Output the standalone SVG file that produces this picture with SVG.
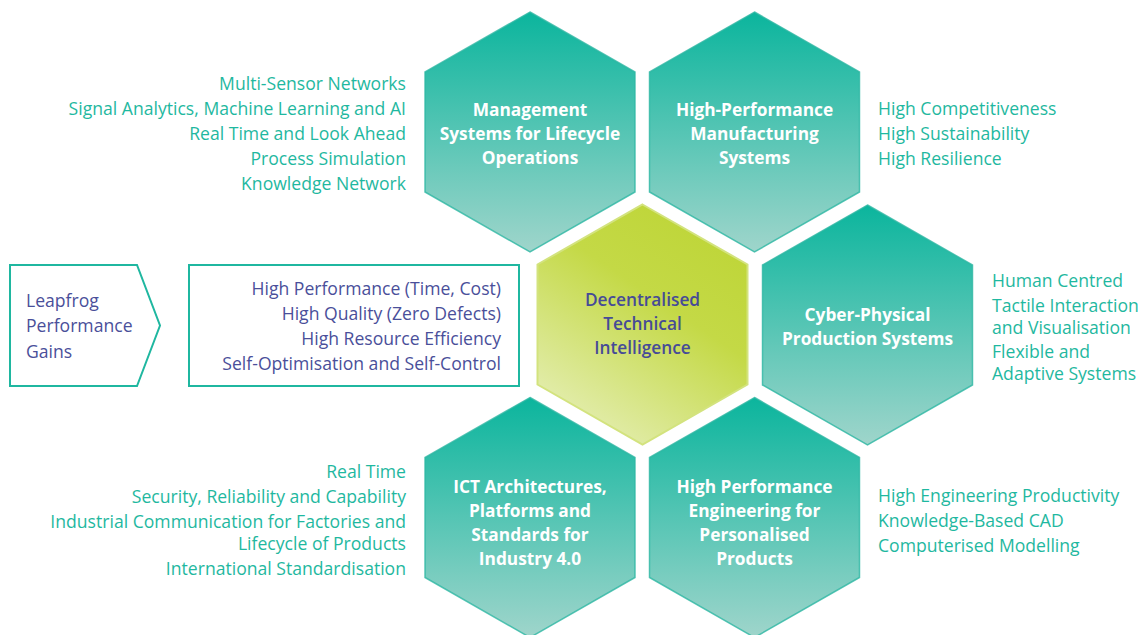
<svg xmlns="http://www.w3.org/2000/svg" width="1147" height="635" viewBox="0 0 1147 635">
<defs>
<linearGradient id="teal" x1="0" y1="0" x2="0" y2="1">
<stop offset="0" stop-color="#0bb59d"/>
<stop offset="1" stop-color="#9fd5cb"/>
</linearGradient>
<linearGradient id="lime" x1="0.75" y1="0.1" x2="0.25" y2="0.95">
<stop offset="0" stop-color="#bfd63a"/>
<stop offset="0.35" stop-color="#c4d946"/>
<stop offset="1" stop-color="#e3edae"/>
</linearGradient>
<polygon id="hex" points="0,-120 105,-60 105,60 0,120 -105,60 -105,-60"/>
</defs>
<style>
.hx{fill:url(#teal);stroke:#2db7a3;stroke-width:1.5;stroke-opacity:0.8}
.hc{fill:url(#lime);stroke:#d3e37e;stroke-width:2}
.ht{font-family:"Open Sans","Noto Sans",sans-serif;font-weight:700;font-size:17.3px;fill:#ffffff;text-anchor:middle}
.hd{font-family:"Open Sans","Noto Sans",sans-serif;font-weight:600;font-size:17.3px;fill:#464b97;text-anchor:middle}
.st{font-family:"Open Sans","Noto Sans",sans-serif;font-size:17.6px;fill:#1fb8a0}
.r{text-anchor:end}
.bt{font-family:"Open Sans","Noto Sans",sans-serif;font-size:17.6px;fill:#4a4f9a}
.box{fill:#ffffff;stroke:#1fb7a0;stroke-width:2}
</style>
<g id="connectors"/>
<g id="hex-management">
<use href="#hex" class="hx" x="530" y="132"/>
<text class="ht" x="530" y="116">Management</text>
<text class="ht" x="530" y="140">Systems for Lifecycle</text>
<text class="ht" x="530" y="164">Operations</text>
</g>
<g id="hex-manufacturing">
<use href="#hex" class="hx" x="754.5" y="132"/>
<text class="ht" x="754.5" y="116">High-Performance</text>
<text class="ht" x="754.5" y="140">Manufacturing</text>
<text class="ht" x="754.5" y="164">Systems</text>
</g>
<g id="hex-decentralised">
<use href="#hex" class="hc" x="642.5" y="324.5"/>
<text class="hd" x="642.5" y="306">Decentralised</text>
<text class="hd" x="642.5" y="330">Technical</text>
<text class="hd" x="642.5" y="354">Intelligence</text>
</g>
<g id="hex-cyber">
<use href="#hex" class="hx" x="867.5" y="325"/>
<text class="ht" x="867.5" y="321">Cyber-Physical</text>
<text class="ht" x="867.5" y="345">Production Systems</text>
</g>
<g id="hex-ict">
<use href="#hex" class="hx" x="530" y="517.5"/>
<text class="ht" x="530" y="493">ICT Architectures,</text>
<text class="ht" x="530" y="517">Platforms and</text>
<text class="ht" x="530" y="541">Standards for</text>
<text class="ht" x="530" y="565">Industry 4.0</text>
</g>
<g id="hex-engineering">
<use href="#hex" class="hx" x="754.5" y="517.5"/>
<text class="ht" x="754.5" y="493">High Performance</text>
<text class="ht" x="754.5" y="517">Engineering for</text>
<text class="ht" x="754.5" y="541">Personalised</text>
<text class="ht" x="754.5" y="565">Products</text>
</g>
<g id="list-management">
<text class="st r" x="406" y="90">Multi-Sensor Networks</text>
<text class="st r" x="406" y="115">Signal Analytics, Machine Learning and AI</text>
<text class="st r" x="406" y="140">Real Time and Look Ahead</text>
<text class="st r" x="406" y="165">Process Simulation</text>
<text class="st r" x="406" y="190">Knowledge Network</text>
</g>
<g id="list-manufacturing">
<text class="st" x="878" y="115">High Competitiveness</text>
<text class="st" x="878" y="140">High Sustainability</text>
<text class="st" x="878" y="165">High Resilience</text>
</g>
<g id="list-cyber">
<text class="st" x="992" y="287">Human Centred</text>
<text class="st" x="992" y="312">Tactile Interaction</text>
<text class="st" x="992" y="334">and Visualisation</text>
<text class="st" x="992" y="358">Flexible and</text>
<text class="st" x="992" y="380">Adaptive Systems</text>
</g>
<g id="list-ict">
<text class="st r" x="406" y="478">Real Time</text>
<text class="st r" x="406" y="503">Security, Reliability and Capability</text>
<text class="st r" x="406" y="528">Industrial Communication for Factories and</text>
<text class="st r" x="406" y="550">Lifecycle of Products</text>
<text class="st r" x="406" y="575">International Standardisation</text>
</g>
<g id="list-engineering">
<text class="st" x="878" y="502">High Engineering Productivity</text>
<text class="st" x="878" y="527">Knowledge-Based CAD</text>
<text class="st" x="878" y="552">Computerised Modelling</text>
</g>
<g id="leapfrog">
<polygon class="box" points="10,265 137,265 160,325.5 137,386 10,386"/>
<text class="bt" x="26" y="307">Leapfrog</text>
<text class="bt" x="26" y="332">Performance</text>
<text class="bt" x="26" y="358">Gains</text>
</g>
<g id="gains">
<rect class="box" x="189" y="265" width="330" height="121"/>
<text class="bt r" x="501" y="295">High Performance (Time, Cost)</text>
<text class="bt r" x="501" y="320">High Quality (Zero Defects)</text>
<text class="bt r" x="501" y="345">High Resource Efficiency</text>
<text class="bt r" x="501" y="370">Self-Optimisation and Self-Control</text>
</g>
</svg>
